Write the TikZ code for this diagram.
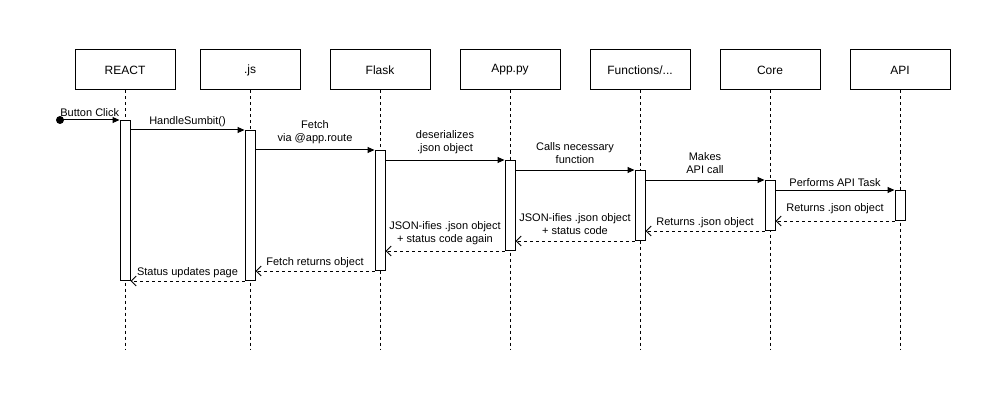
\documentclass[tikz,border=0pt]{standalone}
\usepackage{fontspec}
\setmainfont{Liberation Sans}
\usetikzlibrary{arrows.meta}
\tikzset{
  head/.style = {draw, line width=1pt, minimum width=100pt, minimum height=40pt, inner sep=0pt, font=\fontsize{12}{14}\selectfont},
  bar/.style = {draw, fill=white, line width=1pt, minimum width=10pt, inner sep=0pt, anchor=north},
  lifeline/.style = {line width=1pt, dash pattern=on 3pt off 3pt},
  call/.style = {draw, line width=1pt, -{Triangle[length=7pt,width=6pt]}},
  reply/.style = {draw, line width=1pt, dash pattern=on 3pt off 3pt, -{Straight Barb[length=5pt,width=10pt]}},
  msg/.style = {above, inner sep=3pt, align=center, font=\fontsize{11}{13}\selectfont},
  msgtwo/.style = {msg, yshift=3pt},
}

\begin{document}
\begin{tikzpicture}[x=1pt,y=-1pt]
  \useasboundingbox (0,0) rectangle (1001,401);

  % lifeline heads
  \node[head] (react) at (125,70) {REACT};
  \node[head] (js) at (250,70) {.js};
  \node[head] (flask) at (380,70) {Flask};
  \node[head] (app) at (510,70) {App.py};
  \node[head] (func) at (640,70) {Functions/...};
  \node[head] (core) at (770,70) {Core};
  \node[head] (api) at (900,70) {API};

  \foreach \h in {react,js,flask,app,func,core,api}
    \draw[lifeline] (\h.south) -- (\h.south |- 0,350);

  % activation bars
  \node[bar, minimum height=160pt] (bReact) at (125,120) {};
  \node[bar, minimum height=150pt] (bJs) at (250,130) {};
  \node[bar, minimum height=120pt] (bFlask) at (380,150) {};
  \node[bar, minimum height=90pt] (bApp) at (510,160) {};
  \node[bar, minimum height=70pt] (bFunc) at (640,170) {};
  \node[bar, minimum height=50pt] (bCore) at (770,180) {};
  \node[bar, minimum height=30pt] (bApi) at (900,190) {};

  % calls
  \coordinate (start) at (60,120);
  \fill (start) circle (4pt);
  \draw[call] (start) -- node[msg] {Button Click} (bReact.north west);
  \draw[call] (bReact.east |- bJs.north) -- node[msg] {HandleSumbit()} (bJs.north west);
  \draw[call] (bJs.east |- bFlask.north) -- node[msgtwo] {Fetch\\via @app.route} (bFlask.north west);
  \draw[call] (bFlask.east |- bApp.north) -- node[msgtwo] {deserializes\\.json object} (bApp.north west);
  \draw[call] (bApp.east |- bFunc.north) -- node[msgtwo] {Calls necessary\\function} (bFunc.north west);
  \draw[call] (bFunc.east |- bCore.north) -- node[msgtwo] {Makes\\API call} (bCore.north west);
  \draw[call] (bCore.east |- bApi.north) -- node[msg] {Performs API Task} (bApi.north west);

  % replies
  \draw[reply] (bApi.south west) -- node[msg, yshift=4pt] {Returns .json object} (bCore.east |- bApi.south);
  \draw[reply] (bCore.south west) -- node[msg] {Returns .json object} (bFunc.east |- bCore.south);
  \draw[reply] (bFunc.south west) -- node[msgtwo] {JSON-ifies .json object\\+ status code} (bApp.east |- bFunc.south);
  \draw[reply] (bApp.south west) -- node[msgtwo] {JSON-ifies .json object\\+ status code again} (bFlask.east |- bApp.south);
  \draw[reply] (bFlask.south west) -- node[msg] {Fetch returns object} (bJs.east |- bFlask.south);
  \draw[reply] (bJs.south west) -- node[msg] {Status updates page} (bReact.east |- bJs.south);
\end{tikzpicture}
\end{document}
